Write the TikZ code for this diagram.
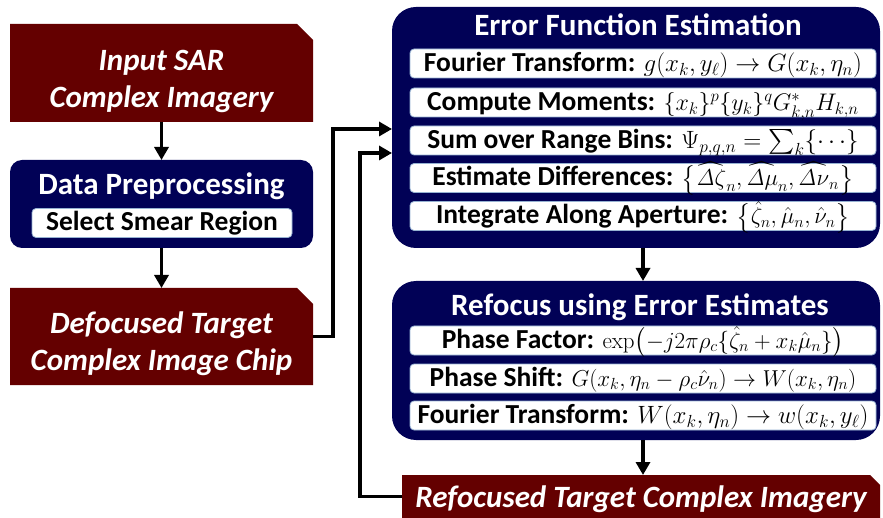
\RequirePackage{fix-cm}
\documentclass[tikz,border=0pt]{standalone}
\usepackage{exscale}
\usepackage[no-math]{fontspec}
\setmainfont{Carlito}
\usetikzlibrary{arrows.meta}
\definecolor{boxred}{RGB}{100,0,0}
\definecolor{boxnavy}{RGB}{1,1,86}
\definecolor{rowedge}{RGB}{150,178,210}
\newcommand\mth[2]{{\fontsize{#1}{#1}\selectfont$#2$}}
\newcommand\lbig[1]{\mathopen{\hbox{$\left#1\vbox to .85em{}\right.\nulldelimiterspace=0pt$}}}
\newcommand\rbig[1]{\mathclose{\hbox{$\left.\vbox to .85em{}\right#1\nulldelimiterspace=0pt$}}}
\begin{document}
\begin{tikzpicture}[x=1pt,y=-1pt,
  shapebox/.style={inner sep=0pt, outer sep=0pt},
  redtext/.style={inner sep=0pt, text=white, align=center,
    font=\fontsize{31}{37}\selectfont\bfseries\itshape},
  navybox/.style={fill=boxnavy, inner sep=0pt, outer sep=0pt},
  ttl/.style={text=white, anchor=base, inner sep=0pt,
    font=\fontsize{31}{36}\selectfont\bfseries},
  rowbox/.style={fill=white, draw=rowedge, line width=0.8pt, rounded corners=4pt,
    minimum height=29pt, inner sep=0pt, outer sep=0pt, text height=22pt, text depth=6pt,
    font=\fontsize{27.5}{30}\selectfont\bfseries},
  arr/.style={line width=3.5pt, -{Triangle[length=13pt,width=14pt]}}
]
\useasboundingbox (0,0) rectangle (883,518);

% ---------- left column ----------
\node[shapebox, minimum width=303pt, minimum height=98pt] (inp) at (161.5,73) {};
\fill[boxred] (inp.south west) -- (inp.north west) -- ([xshift=-16pt]inp.north east)
  -- ([yshift=-16pt]inp.north east) -- (inp.south east) -- cycle;
\node[redtext] (inptxt) at ([yshift=-8pt]inp.center) {Input SAR\\Complex Imagery};

\node[navybox, rounded corners=12pt, minimum width=303pt, minimum height=88pt] (dp) at (161.5,204) {};
\node[ttl] (dptxt) at (161.5,195) {Data Preprocessing};
\node[rowbox, minimum width=260pt] (dps) at (162,223) {Select Smear Region};

\node[shapebox, minimum width=303pt, minimum height=97pt] (def) at (161.5,336.5) {};
\fill[boxred] (def.south west) -- (def.north west) -- ([xshift=-16pt]def.north east)
  -- ([yshift=-16pt]def.north east) -- (def.south east) -- cycle;
\node[redtext] (deftxt) at ([yshift=-7pt]def.center) {Defocused Target\\Complex Image Chip};

% ---------- error function estimation ----------
\node[navybox, rounded corners=24pt, minimum width=488pt, minimum height=241pt] (efe) at (636,127.5) {};
\node[ttl] (efetxt) at (638,36) {Error Function Estimation};
\node[rowbox, minimum width=466pt] (r1) at (643,63.5)
  {Fourier Transform: \mth{25}{g(x_k, y_\ell) \rightarrow G(x_k, \eta_n)}};
\node[rowbox, minimum width=466pt] (r2) at (643,102.5)
  {Compute Moments: \mth{24}{\{x_k\}^p\{y_k\}^q G^*_{k,n} H_{k,n}}};
\node[rowbox, minimum width=466pt] (r3) at (643,140.5)
  {Sum over Range Bins: \mth{25}{\Psi_{p,q,n} = \sum_k \{\cdots\}}};
\node[rowbox, minimum width=466pt] (r4) at (643,178)
  {Estimate Differences: \mth{23}{\lbig\{\widehat{\mathit{\Delta}\zeta}_n, \widehat{\mathit{\Delta}\mu}_n, \widehat{\mathit{\Delta}\nu}_n\rbig\}}};
\node[rowbox, minimum width=466pt] (r5) at (643,216)
  {Integrate Along Aperture: \mth{23}{\lbig\{\hat{\zeta}_n, \hat{\mu}_n, \hat{\nu}_n\rbig\}}};

% ---------- refocus ----------
\node[navybox, rounded corners=24pt, minimum width=488pt, minimum height=159pt] (rfe) at (636,360.5) {};
\node[ttl] (rfetxt) at (640,316) {Refocus using Error Estimates};
\node[rowbox, minimum width=466pt] (s1) at (643,340.5)
  {Phase Factor: \mth{23}{\exp\lbig(-j2\pi\rho_c\{\hat{\zeta}_n + x_k\hat{\mu}_n\}\rbig)}};
\node[rowbox, minimum width=466pt] (s2) at (643,378.5)
  {Phase Shift: \mth{23}{G(x_k, \eta_n - \rho_c\hat{\nu}_n) \rightarrow W(x_k, \eta_n)}};
\node[rowbox, minimum width=466pt] (s3) at (643,415.5)
  {Fourier Transform: \mth{25}{W(x_k, \eta_n) \rightarrow w(x_k, y_\ell)}};

% ---------- output ----------
\node[shapebox, minimum width=478pt, minimum height=43pt] (rft) at (641,496.5) {};
\fill[boxred] (rft.south west) -- (rft.north west) -- ([xshift=-10pt]rft.north east)
  -- ([yshift=-10pt]rft.north east) -- (rft.south east) -- cycle;
\node[redtext, anchor=base] (rfttxt) at (641,507) {Refocused Target Complex Imagery};

% ---------- connectors ----------
\coordinate (in1) at (392,129);
\coordinate (in2) at (392,153);
\draw[arr] (inp.south) -- (dp.north);
\draw[arr] (dp.south) -- (def.north);
\draw[arr] (def.east) -- ++(20,0) |- (in1);
\draw[arr] (rft.west) -- ++(-42,0) |- (in2);
\draw[arr] (r5.south |- efe.south) -- (r5.south |- rfe.north);
\draw[arr] (s3.south |- rfe.south) -- (s3.south |- rft.north);
\end{tikzpicture}
\end{document}
